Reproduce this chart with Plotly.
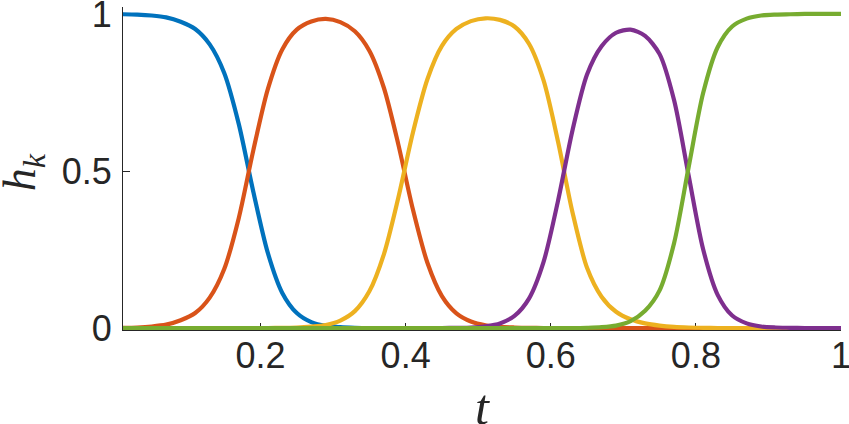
import plotly.graph_objects as go

# sample positions (t)
t = [0.01, 0.03, 0.05, 0.07, 0.09, 0.11, 0.13, 0.15, 0.17, 0.19,
     0.21, 0.23, 0.25, 0.27, 0.29, 0.31, 0.33, 0.35, 0.37, 0.39,
     0.41, 0.43, 0.45, 0.47, 0.49, 0.51, 0.53, 0.55, 0.57, 0.59,
     0.61, 0.63, 0.65, 0.67, 0.69, 0.71, 0.73, 0.75, 0.77, 0.79,
     0.81, 0.83, 0.85, 0.87, 0.89, 0.91, 0.93, 0.95, 0.97, 0.99, 1.00]

h1 = [0.999, 0.998, 0.995, 0.989, 0.975, 0.952, 0.903, 0.812, 0.650, 0.435,
      0.240, 0.112, 0.048, 0.019, 0.007, 0.003, 0.001, 0.000, 0.000, 0.000,
      0.000, 0.000, 0.000, 0.000, 0.000, 0.000, 0.000, 0.000, 0.000, 0.000,
      0.000, 0.000, 0.000, 0.000, 0.000, 0.000, 0.000, 0.000, 0.000, 0.000,
      0.000, 0.000, 0.000, 0.000, 0.000, 0.000, 0.000, 0.000, 0.000, 0.000, 0.000]

h2 = [0.001, 0.002, 0.005, 0.011, 0.025, 0.048, 0.097, 0.188, 0.350, 0.565,
      0.760, 0.887, 0.950, 0.976, 0.984, 0.974, 0.945, 0.883, 0.765, 0.584,
      0.378, 0.208, 0.102, 0.047, 0.021, 0.009, 0.004, 0.002, 0.001, 0.000,
      0.000, 0.000, 0.000, 0.000, 0.000, 0.000, 0.000, 0.000, 0.000, 0.000,
      0.000, 0.000, 0.000, 0.000, 0.000, 0.000, 0.000, 0.000, 0.000, 0.000, 0.000]

h3 = [0.000, 0.000, 0.000, 0.000, 0.000, 0.000, 0.000, 0.000, 0.000, 0.000,
      0.000, 0.001, 0.002, 0.005, 0.010, 0.024, 0.054, 0.117, 0.235, 0.416,
      0.622, 0.792, 0.898, 0.952, 0.977, 0.986, 0.981, 0.960, 0.905, 0.789,
      0.594, 0.368, 0.192, 0.100, 0.052, 0.028, 0.015, 0.008, 0.004, 0.002,
      0.001, 0.000, 0.000, 0.000, 0.000, 0.000, 0.000, 0.000, 0.000, 0.000, 0.000]

h4 = [0.000, 0.000, 0.000, 0.000, 0.000, 0.000, 0.000, 0.000, 0.000, 0.000,
      0.000, 0.000, 0.000, 0.000, 0.000, 0.000, 0.000, 0.000, 0.000, 0.000,
      0.000, 0.000, 0.000, 0.001, 0.002, 0.006, 0.015, 0.039, 0.094, 0.210,
      0.405, 0.630, 0.807, 0.897, 0.940, 0.950, 0.930, 0.872, 0.725, 0.486,
      0.251, 0.106, 0.040, 0.015, 0.005, 0.002, 0.001, 0.000, 0.000, 0.000, 0.000]

h5 = [0.000, 0.000, 0.000, 0.000, 0.000, 0.000, 0.000, 0.000, 0.000, 0.000,
      0.000, 0.000, 0.000, 0.000, 0.000, 0.000, 0.000, 0.000, 0.000, 0.000,
      0.000, 0.000, 0.000, 0.000, 0.000, 0.000, 0.000, 0.000, 0.000, 0.000,
      0.000, 0.000, 0.001, 0.003, 0.008, 0.022, 0.055, 0.120, 0.271, 0.512,
      0.748, 0.894, 0.960, 0.985, 0.995, 0.998, 0.999, 1.000, 1.000, 1.000, 1.000]

series = [h1, h2, h3, h4, h5]
colors = ["#0072BD", "#D95319", "#EDB120", "#7E2F8E", "#77AC30"]
names = ["h1", "h2", "h3", "h4", "h5"]

x_tickvals = [0.2, 0.4, 0.6, 0.8, 1.0]
x_ticktext = ["0.2", "0.4", "0.6", "0.8", "1"]
y_tickvals = [0, 0.5, 1]
y_ticktext = ["0", "0.5", "1"]

axis_color = "#262626"
tick_font = dict(family="Liberation Sans, Arial, sans-serif", size=36, color=axis_color)

fig = go.Figure()
for ys, c, n in zip(series, colors, names):
    fig.add_trace(go.Scatter(x=t, y=ys, mode="lines", name=n,
                             line=dict(color=c, width=4.2, shape="spline", smoothing=0.8)))

fig.update_layout(
    width=849, height=424,
    margin=dict(l=123, r=8, t=7, b=94),
    paper_bgcolor="white", plot_bgcolor="white",
    showlegend=False,
)
fig.update_xaxes(
    range=[0.0105, 1.0], tickvals=x_tickvals, ticktext=x_ticktext,
    ticks="inside", ticklen=7, tickwidth=1, tickcolor=axis_color,
    showline=True, linecolor=axis_color, linewidth=1,
    showgrid=False, zeroline=False, layer="below traces",
    tickfont=tick_font, ticklabelstandoff=-6, ticklabeloverflow="allow",
    automargin=False,
)
fig.update_yaxes(
    range=[-0.006, 1.022], tickvals=y_tickvals, ticktext=y_ticktext,
    ticks="inside", ticklen=7, tickwidth=1, tickcolor=axis_color,
    showline=True, linecolor=axis_color, linewidth=1,
    showgrid=False, zeroline=False, layer="below traces",
    tickfont=tick_font, ticklabelstandoff=3, ticklabeloverflow="allow",
    automargin=False,
)

# axis titles (LaTeX-style italic math)
fig.add_annotation(text="<i>h</i><sub><i>k</i></sub>", textangle=-90,
                   xref="paper", yref="paper", x=-0.139, y=0.489,
                   xanchor="center", yanchor="middle", showarrow=False,
                   font=dict(family="Liberation Serif, serif", size=46, color=axis_color))
fig.add_annotation(text="<i>t</i>",
                   xref="paper", yref="paper", x=0.501, y=-0.238,
                   xanchor="center", yanchor="middle", showarrow=False,
                   font=dict(family="Liberation Serif, serif", size=50, color=axis_color))

fig.write_html("out.html", config={"displayModeBar": False},
               post_script="document.body.style.margin='0';")
